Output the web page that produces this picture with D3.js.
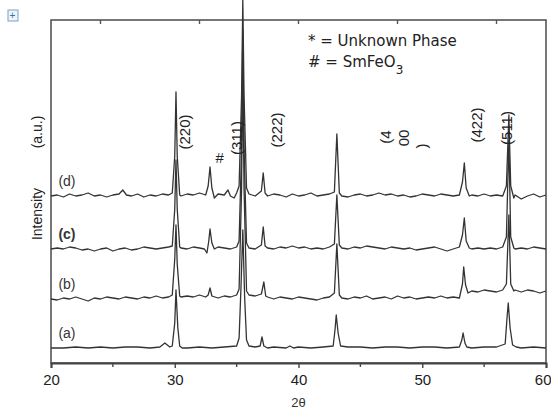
<!DOCTYPE html>
<html>
<head>
<meta charset="utf-8">
<script src="https://cdn.jsdelivr.net/npm/d3@7"></script>
<style>
  body { margin: 0; background: #fff; }
  svg { display: block; font-family: "Liberation Sans", Arial, sans-serif; }
</style>
</head>
<body>
<svg class="container"></svg>
<script>
// x axis (2 theta, degrees)
const xTicks = [20, 30, 40, 50, 60];
const xMinorTicks = [25, 35, 45, 55];
const xTopTicks = [24, 32, 40, 48, 56];

// stacking offset of each pattern (a.u.)
const samples = ["(a)", "(b)", "(c)", "(d)"];
const offsets = [15, 64, 114, 167];

// patterns: [2theta, intensity above own baseline]
const traceA = [[20,0],[21,0],[22,1],[23,0],[24,1],[25,0],[26,1],[27,1],[28,0],[28.8,1],[29,3],[29.2,5],[29.4,3],[29.6,1],[29.8,2],
  [30,25],[30.1,58],[30.25,20],[30.4,2],[30.6,0],[31,0],[32,1],[33,0],[34,1],[35,2],[35.2,10],[35.35,60],[35.5,118],[35.65,50],[35.8,8],
  [36,2],[36.5,1],[36.9,2],[37.05,11],[37.2,2],[37.5,0],[38,1],[39,0],[39.3,2],[39.6,0],[40,1],[41,0],[42,1],[42.8,2],[42.95,18],
  [43.05,33],[43.2,15],[43.4,2],[44,1],[45,1],[46,0],[47,1],[48,1],[49,0],[50,1],[51,1],[52,0],[53,1],[53.2,8],[53.3,15],[53.45,5],
  [53.6,1],[54,0],[55,1],[56,1],[56.7,4],[56.85,30],[56.95,45],[57.1,20],[57.3,3],[57.6,1],[58,0],[59,1],[60,0]];

const traceB = [[20,0],[20.5,-1],[21,1],[21.5,0],[22,2],[22.5,0],[23,-2],[23.5,1],[24,0],[24.5,2],[25,1],[25.5,0],[26,2],[26.5,1],
  [27,0],[27.5,2],[28,1],[28.5,3],[29,1],[29.5,2],[29.8,4],[30,40],[30.1,74],[30.2,35],[30.4,3],[30.5,2],[31,3],[31.5,2],[32,4],
  [32.5,2],[32.7,4],[32.85,11],[33,3],[33.5,1],[34,3],[34.5,2],[35,4],[35.2,10],[35.4,110],[35.5,239],[35.6,110],[35.8,8],[36,4],
  [36.5,3],[37,5],[37.2,17],[37.35,3],[37.5,2],[38,0],[38.5,2],[39,1],[39.5,0],[40,2],[40.5,1],[41,0],[41.5,-1],[42,1],[42.5,2],
  [42.9,6],[43.1,55],[43.3,4],[43.5,1],[44,0],[44.5,2],[45,1],[45.5,3],[46,0],[46.5,1],[47,2],[47.5,0],[48,3],[48.5,1],[49,2],
  [49.5,0],[50,1],[50.5,2],[51,1],[51.5,3],[52,1],[52.5,2],[53,1],[53.25,15],[53.35,32],[53.5,14],[53.7,6],[54,8],[54.5,7],[55,9],
  [55.5,8],[56,7],[56.5,9],[56.8,15],[57,84],[57.15,15],[57.4,8],[57.5,9],[58,7],[58.5,9],[59,8],[59.5,6],[60,8]];

const traceC = [[20,0],[20.5,1],[21,0],[21.5,2],[22,1],[22.5,-1],[23,0],[23.5,-2],[24,0],[24.5,1],[25,-2],[25.5,0],[26,1],[26.5,-1],
  [27,0],[27.5,2],[28,1],[28.5,0],[29,1],[29.5,2],[29.8,3],[30,40],[30.1,89],[30.2,40],[30.4,2],[30.5,1],[31,0],[31.5,2],[32,1],
  [32.4,0],[32.6,-4],[32.75,8],[32.85,20],[33,6],[33.2,0],[33.5,2],[34,1],[34.5,0],[35,2],[35.2,8],[35.4,100],[35.5,219],[35.6,100],
  [35.8,6],[36,1],[36.5,0],[37,4],[37.15,22],[37.3,3],[37.5,1],[38,0],[38.5,2],[39,1],[39.5,3],[40,1],[40.5,2],[41,0],[41.5,1],
  [42,0],[42.5,2],[42.9,5],[43.1,54],[43.3,4],[43.5,1],[44,0],[44.5,2],[45,1],[45.5,3],[46,2],[46.5,1],[47,0],[47.5,2],[48,1],
  [48.5,0],[49,1],[49.5,-1],[50,0],[50.5,1],[51,2],[51.5,0],[52,-2],[52.5,0],[53,2],[53.25,14],[53.4,31],[53.55,8],[53.8,1],[54,0],
  [54.5,1],[55,0],[55.5,1],[56,0],[56.5,2],[56.8,12],[57,109],[57.15,12],[57.4,1],[57.5,0],[58,1],[58.5,0],[59,2],[59.5,1],[60,0]];

const traceD = [[20,0],[20.5,1],[21,-1],[21.5,2],[22,0],[22.5,1],[23,3],[23.5,0],[24,1],[24.5,-1],[25,1],[25.5,2],[25.8,6],[26.1,1],
  [26.5,0],[27,2],[27.5,-1],[28,1],[28.5,0],[29,2],[29.5,1],[29.8,3],[30,40],[30.1,104],[30.2,40],[30.4,1],[30.5,0],[31,2],[31.5,1],
  [32,3],[32.5,1],[32.7,10],[32.85,29],[33,8],[33.2,-2],[33.5,2],[34,1],[34.3,6],[34.5,0],[34.8,-2],[35,3],[35.2,10],[35.4,100],
  [35.5,196],[35.6,100],[35.8,8],[36,2],[36.5,0],[37,5],[37.15,23],[37.3,3],[37.5,0],[38,2],[38.5,1],[39,-1],[39.5,2],[40,0],[40.5,1],
  [41,3],[41.5,0],[42,1],[42.5,2],[42.9,4],[43.1,62],[43.3,3],[43.5,0],[44,-1],[44.5,1],[45,2],[45.5,0],[46,1],[46.5,3],[47,1],
  [47.5,2],[48,0],[48.5,1],[49,-1],[49.5,0],[50,2],[50.5,1],[51,0],[51.5,2],[52,1],[52.5,0],[53,1],[53.25,14],[53.4,33],[53.55,8],
  [53.8,0],[54,1],[54.5,0],[55,2],[55.5,0],[56,1],[56.5,0],[56.8,10],[57,81],[57.15,10],[57.4,-2],[57.5,1],[58,-3],[58.5,0],[59,2],
  [59.5,-1],[60,1]];

const traces = [traceA, traceB, traceC, traceD];

// reflection labels: text, 2theta, intensity
const hklLabels = [["(220)", 30.85, 231], ["(311)", 35.05, 225], ["(222)", 38.3, 233], ["(422)", 54.45, 238], ["(511)", 56.85, 235]];
const hkl400 = [["(4", 47.05, 226], ["00", 48.5, 225], [")", 50.0, 217]];
const legendLines = ["* = Unknown Phase", "# = SmFeO"];

const W = 551, H = 410;
const m = { left: 51, right: 5, top: 20, bottom: 47 };

const svg = d3.select(".container").attr("width", W).attr("height", H);

const x = d3.scaleLinear().domain([20, 60]).range([m.left, W - m.right]);
const y = d3.scaleLinear().domain([0, 343]).range([H - m.bottom, m.top]);

// frame
svg.append("rect")
  .attr("x", x(20)).attr("y", y(343))
  .attr("width", x(60) - x(20)).attr("height", y(0) - y(343))
  .attr("fill", "none").attr("stroke", "#555").attr("stroke-width", 1.6);

// bottom axis
const xAxis = d3.axisBottom(x).tickValues(xTicks).tickSize(5).tickPadding(6);
const gx = svg.append("g").attr("transform", `translate(0,${y(0)})`).call(xAxis);
gx.select(".domain").attr("stroke", "#444").attr("stroke-width", 2);
gx.selectAll(".tick line").attr("stroke", "#444").attr("stroke-width", 1.4);
gx.selectAll(".tick text").attr("font-size", 15).attr("fill", "#222")
  .attr("font-family", "'Liberation Sans', Arial, sans-serif");
// last label sits against the right edge
gx.selectAll(".tick text").filter(d => d === 60).attr("text-anchor", "end").attr("dx", 5);

svg.append("g").selectAll("line").data(xMinorTicks).join("line")
  .attr("x1", d => x(d)).attr("x2", d => x(d))
  .attr("y1", y(0)).attr("y2", y(0) + 4)
  .attr("stroke", "#444").attr("stroke-width", 1.4);

// top ticks (inward)
svg.append("g").selectAll("line").data(xTopTicks).join("line")
  .attr("x1", d => x(d)).attr("x2", d => x(d))
  .attr("y1", y(343)).attr("y2", y(343) + 4)
  .attr("stroke", "#555").attr("stroke-width", 1.4);

// patterns
const line = d3.line().x(d => x(d[0]));
svg.append("g").selectAll("path").data(traces).join("path")
  .attr("d", (t, i) => line.y(d => y(d[1] + offsets[i]))(t))
  .attr("fill", "none")
  .attr("stroke", "#333")
  .attr("stroke-width", 1.3)
  .attr("stroke-linejoin", "round");

// sample labels
svg.append("g").selectAll("text").data(samples).join("text")
  .attr("x", x(20.6))
  .attr("y", (d, i) => y(offsets[i] + 10))
  .attr("font-size", 14)
  .attr("fill", "#333")
  .attr("font-weight", (d, i) => i === 2 ? "bold" : "normal")
  .text(d => d);

// axis titles
svg.append("text")
  .attr("x", x(40)).attr("y", 407)
  .attr("text-anchor", "middle").attr("font-size", 13).attr("fill", "#333")
  .text("2θ");

svg.append("text")
  .attr("transform", `translate(42,214) rotate(-90)`)
  .attr("text-anchor", "middle").attr("font-size", 14).attr("fill", "#222")
  .text("Intensity");
svg.append("text")
  .attr("transform", `translate(42,132) rotate(-90)`)
  .attr("text-anchor", "middle").attr("font-size", 14).attr("fill", "#222")
  .text("(a.u.)");

// reflection labels (rotated)
svg.append("g").selectAll("text").data(hklLabels.concat(hkl400)).join("text")
  .attr("transform", d => `translate(${x(d[1]) + 5},${y(d[2])}) rotate(-90)`)
  .attr("text-anchor", "middle")
  .attr("font-size", 15)
  .attr("fill", "#222")
  .text(d => d[0]);

svg.append("text")
  .attr("x", x(33.3)).attr("y", y(200))
  .attr("font-size", 15).attr("fill", "#222")
  .text("#");

// legend
const lg = svg.append("g").attr("font-family", "'DejaVu Sans', sans-serif").attr("font-size", 15).attr("fill", "#222");
lg.append("text").attr("x", 308).attr("y", 46).text(legendLines[0]);
lg.append("text").attr("x", 308).attr("y", 67).text(legendLines[1])
  .append("tspan").attr("baseline-shift", "sub").attr("font-size", 12).text("3");

// small icon at top left
svg.append("rect").attr("x", 8).attr("y", 10).attr("width", 10).attr("height", 11)
  .attr("fill", "#eef4fb").attr("stroke", "#7aa0c8").attr("stroke-width", 1);
svg.append("text").attr("x", 9.5).attr("y", 19).attr("font-size", 10).attr("fill", "#3a6ea5").text("+");
</script>
</body>
</html>
